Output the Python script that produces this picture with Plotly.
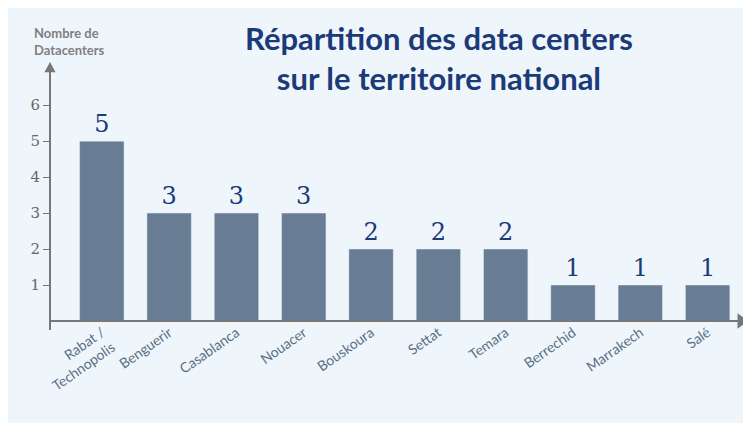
import plotly.graph_objects as go

cities = ["Rabat /<br>Technopolis", "Benguerir", "Casablanca", "Nouacer", "Bouskoura",
          "Settat", "Temara", "Berrechid", "Marrakech", "Salé"]
counts = [5, 3, 3, 3, 2, 2, 2, 1, 1, 1]
yticks = [1, 2, 3, 4, 5, 6]

bg = "#eef6fc"
fig = go.Figure(go.Bar(
    x=list(range(len(cities))), y=counts, text=[str(c) for c in counts],
    textposition="outside", marker_color="#687c93", width=0.66,
    textfont=dict(family="DejaVu Serif", size=24, color="#1d3a78"),
    cliponaxis=False,
))
fig.update_layout(
    width=751, height=423, paper_bgcolor=bg, plot_bgcolor=bg,
    margin=dict(l=42, r=11, t=54, b=110), showlegend=False,
    xaxis=dict(range=[-0.77, 9.6], tickmode="array", tickvals=list(range(len(cities))),
               ticktext=cities, tickangle=-35, showgrid=False, zeroline=False,
               showline=False, ticks="",
               tickfont=dict(family="Lato", size=14, color="#5a6f85")),
    yaxis=dict(range=[0, 7.2], tickvals=yticks, showgrid=False, zeroline=False,
               showline=False, ticks="outside", ticklen=6, tickcolor="#777",
               tickfont=dict(family="DejaVu Serif", size=15, color="#666")),
    shapes=[
        dict(type="line", xref="paper", yref="paper", x0=0, x1=0.995, y0=0, y1=0,
             line=dict(color="#777", width=2)),
        dict(type="line", xref="paper", yref="paper", x0=0, x1=0, y0=-0.035, y1=0.99,
             line=dict(color="#777", width=2)),
        dict(type="path", xref="paper", yref="paper",
             path="M 0.985 0.03 L 1.0 0 L 0.985 -0.03 Z", fillcolor="#777", line_width=0),
        dict(type="path", xref="paper", yref="paper",
             path="M -0.008 0.96 L 0 1.0 L 0.008 0.96 Z", fillcolor="#777", line_width=0),
    ],
    annotations=[
        dict(text="Répartition des data centers<br>sur le territoire national",
             xref="paper", yref="paper", x=0.557, y=1.04, xanchor="center", yanchor="bottom",
             yshift=-47, showarrow=False,
             font=dict(family="Lato", size=31, color="#1d3a78", weight="bold")),
        dict(text="Nombre de<br>Datacenters", xref="paper", yref="paper", x=0.028, y=1,
             xanchor="center", yanchor="bottom", yshift=2, showarrow=False, align="left",
             font=dict(family="Lato", size=13, color="#808080", weight="bold")),
    ],
)
fig.write_html("out.html")
